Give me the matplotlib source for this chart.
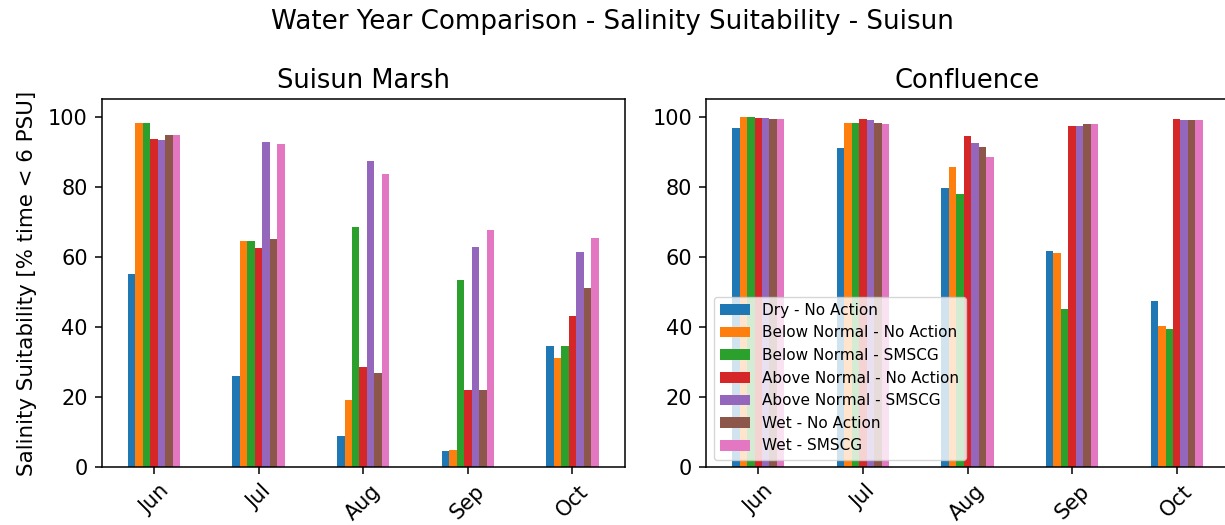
import numpy as np
import matplotlib
matplotlib.use("Agg")
import matplotlib.pyplot as plt

months = ["Jun", "Jul", "Aug", "Sep", "Oct"]
series_names = [
    "Dry - No Action",
    "Below Normal - No Action",
    "Below Normal - SMSCG",
    "Above Normal - No Action",
    "Above Normal - SMSCG",
    "Wet - No Action",
    "Wet - SMSCG",
]

# Suisun Marsh values per series (Jun..Oct)
marsh_dry_na = [55.0, 26.0, 9.0, 4.7, 34.6]
marsh_bn_na = [98.3, 64.5, 19.1, 5.0, 31.1]
marsh_bn_smscg = [98.3, 64.5, 68.6, 53.4, 34.6]
marsh_an_na = [93.6, 62.6, 28.5, 22.0, 43.2]
marsh_an_smscg = [93.3, 92.7, 87.3, 62.8, 61.5]
marsh_wet_na = [94.8, 65.1, 27.0, 22.0, 51.2]
marsh_wet_smscg = [94.8, 92.1, 83.7, 67.8, 65.4]

# Confluence values per series (Jun..Oct)
conf_dry_na = [96.7, 91.2, 79.6, 61.8, 47.3]
conf_bn_na = [100.0, 98.1, 85.7, 61.1, 40.4]
conf_bn_smscg = [100.0, 98.1, 78.0, 45.2, 39.4]
conf_an_na = [99.7, 99.5, 94.5, 97.5, 99.3]
conf_an_smscg = [99.7, 99.2, 92.4, 97.3, 99.1]
conf_wet_na = [99.4, 98.1, 91.3, 98.0, 99.1]
conf_wet_smscg = [99.4, 97.8, 88.4, 97.9, 99.0]

marsh = [marsh_dry_na, marsh_bn_na, marsh_bn_smscg, marsh_an_na,
         marsh_an_smscg, marsh_wet_na, marsh_wet_smscg]
conf = [conf_dry_na, conf_bn_na, conf_bn_smscg, conf_an_na,
        conf_an_smscg, conf_wet_na, conf_wet_smscg]

colors = ["#1f77b4", "#ff7f0e", "#2ca02c", "#d62728",
          "#9467bd", "#8c564b", "#e377c2"]

fig = plt.figure(figsize=(12.25, 5.25), dpi=100)
ax1 = fig.add_axes([0.083, 0.110, 0.427, 0.701])
ax2 = fig.add_axes([0.5763, 0.110, 0.427, 0.701])

x = np.arange(len(months))
group_w = 0.5
n = len(series_names)
w = group_w / n


def draw(ax, data, title):
    for j, (vals, c, name) in enumerate(zip(data, colors, series_names)):
        pos = x - group_w / 2 + w / 2 + j * w
        ax.bar(pos, vals, width=w, color=c, label=name)
    ax.set_xlim(-0.5, len(months) - 0.5)
    ax.set_ylim(0, 105)
    ax.set_yticks([0, 20, 40, 60, 80, 100])
    ax.set_xticks(x)
    ax.set_xticklabels(months, rotation=45)
    ax.tick_params(labelsize=15, length=5, width=1.1, pad=5)
    for s in ax.spines.values():
        s.set_linewidth(1.1)
    ax.set_title(title, fontsize=18.5, pad=8)


draw(ax1, marsh, "Suisun Marsh")
draw(ax2, conf, "Confluence")
ax1.set_ylabel("Salinity Suitability [% time < 6 PSU]", fontsize=15.4,
               labelpad=8)
ax2.legend(loc="lower left", fontsize=11)
fig.suptitle("Water Year Comparison - Salinity Suitability - Suisun",
             fontsize=18.8, x=0.5, y=0.983)

fig.savefig("out.png", dpi=100)
